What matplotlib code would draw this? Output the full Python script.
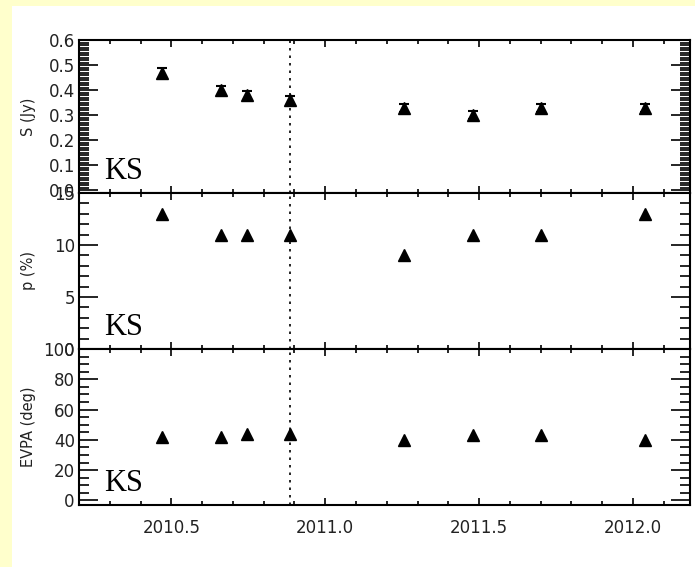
import matplotlib.pyplot as plt
from matplotlib.patches import Rectangle
from matplotlib.ticker import MultipleLocator, FormatStrFormatter

# epochs (decimal year)
epochs = [2010.47, 2010.66, 2010.745, 2010.885, 2011.255, 2011.48, 2011.70, 2012.04]

flux = [0.47, 0.40, 0.38, 0.36, 0.33, 0.30, 0.33, 0.33]
flux_err = [0.020, 0.018, 0.018, 0.018, 0.016, 0.016, 0.016, 0.016]
pol_frac = [13, 11, 11, 11, 9, 11, 11, 13]
evpa = [42, 42, 44, 44, 40, 43, 43, 40]

flare_epoch = 2010.885
tag = "KS"

fig = plt.figure(figsize=(6.95, 5.67), dpi=100, facecolor="#FFFFCC")
fig.patches.append(Rectangle((12 / 695, 0), 1, 1 - 6 / 567, transform=fig.transFigure,
                             facecolor="white", edgecolor="none", zorder=-10))

left, width = 79 / 695, 611 / 695
ax1 = fig.add_axes([left, 1 - 193 / 567, width, 153 / 567])
ax2 = fig.add_axes([left, 1 - 349 / 567, width, 156 / 567], sharex=ax1)
ax3 = fig.add_axes([left, 1 - 505 / 567, width, 156 / 567], sharex=ax1)

ax1.errorbar(epochs, flux, yerr=flux_err, fmt="^", color="black", ms=8.5,
             capsize=3.5, elinewidth=1.5, capthick=1.5)
ax2.plot(epochs, pol_frac, "^", color="black", ms=8.5)
ax3.plot(epochs, evpa, "^", color="black", ms=8.5)

ax1.set_ylim(-0.01, 0.6)
ax1.yaxis.set_major_locator(MultipleLocator(0.1))
ax1.yaxis.set_minor_locator(MultipleLocator(0.01))
ax1.yaxis.set_major_formatter(FormatStrFormatter("%.1f"))
ax1.set_ylabel("S (Jy)")

ax2.set_ylim(0, 15)
ax2.yaxis.set_major_locator(MultipleLocator(5))
ax2.yaxis.set_minor_locator(MultipleLocator(1))
ax2.set_ylabel("p (%)")

ax3.set_ylim(-3, 100)
ax3.yaxis.set_major_locator(MultipleLocator(20))
ax3.yaxis.set_minor_locator(MultipleLocator(5))
ax3.set_ylabel("EVPA (deg)")

ax3.set_xlim(2010.2, 2012.185)
ax3.xaxis.set_major_locator(MultipleLocator(0.5))
ax3.xaxis.set_minor_locator(MultipleLocator(0.1))
ax3.xaxis.set_major_formatter(FormatStrFormatter("%.1f"))

for ax in (ax1, ax2, ax3):
    ax.axvline(flare_epoch, color="black", ls=(0, (1.5, 3)), lw=1.2)
    ax.text(0.041, 0.09, tag, transform=ax.transAxes, family="Liberation Serif",
            fontsize=22, va="baseline", ha="left")
    ax.tick_params(which="both", direction="in", top=True, right=True, labelsize=12,
                   width=1.2, pad=3, labelcolor="#222222")
    ax.tick_params(axis="y", which="major", length=14)
    ax.tick_params(axis="y", which="minor", length=7)
    ax.tick_params(axis="x", which="major", length=5)
    ax.tick_params(axis="x", which="minor", length=3)
    ax.yaxis.label.set_size(10.5)
    ax.yaxis.label.set_color("#222222")
    ax.yaxis.set_label_coords(-0.07, 0.5)
    for s in ax.spines.values():
        s.set_linewidth(1.5)

for ax in (ax1, ax2):
    ax.tick_params(labelbottom=False)

ax3.tick_params(axis="x", pad=10)

fig.savefig("out.png", dpi=100, facecolor=fig.get_facecolor())
